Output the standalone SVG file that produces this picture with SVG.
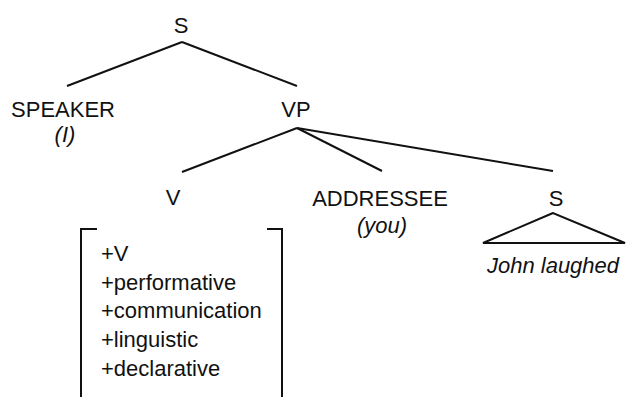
<svg xmlns="http://www.w3.org/2000/svg" width="627" height="397" viewBox="0 0 627 397">
<style>
text{font-family:"Liberation Sans",Arial,sans-serif;font-size:22px;fill:#111}
.c{text-anchor:middle}
.i{font-style:italic}
.ln{stroke:#111;stroke-width:2;fill:none}
</style>
<rect width="627" height="397" fill="#fff"/>
<g id="connectors" class="ln">
<line x1="182" y1="42" x2="67" y2="86"/>
<line x1="182" y1="42" x2="297" y2="86"/>
<line x1="297" y1="128" x2="182" y2="172"/>
<line x1="297" y1="128" x2="382" y2="171"/>
<line x1="297" y1="128" x2="553" y2="171"/>
</g>
<g id="S"><text class="c" x="181" y="33">S</text></g>
<g id="SPEAKER"><text class="c" x="63" y="117">SPEAKER</text><text class="c i" x="65" y="142">(I)</text></g>
<g id="VP"><text class="c" x="296" y="117">VP</text></g>
<g id="V"><text class="c" x="173" y="205">V</text></g>
<g id="ADDRESSEE"><text class="c" x="380" y="206">ADDRESSEE</text><text class="c i" x="382" y="233">(you)</text></g>
<g id="S2"><text class="c" x="556" y="206">S</text>
<polygon class="ln" points="553,213 483,243 625,243"/>
<text class="c i" x="553" y="273">John laughed</text></g>
<g id="features">
<path class="ln" d="M97,229 H81 V397 M267,229 H282 V397"/>
<text x="101" y="261">+V</text>
<text x="101" y="290">+performative</text>
<text x="101" y="318">+communication</text>
<text x="101" y="347">+linguistic</text>
<text x="101" y="376">+declarative</text>
</g>
</svg>
